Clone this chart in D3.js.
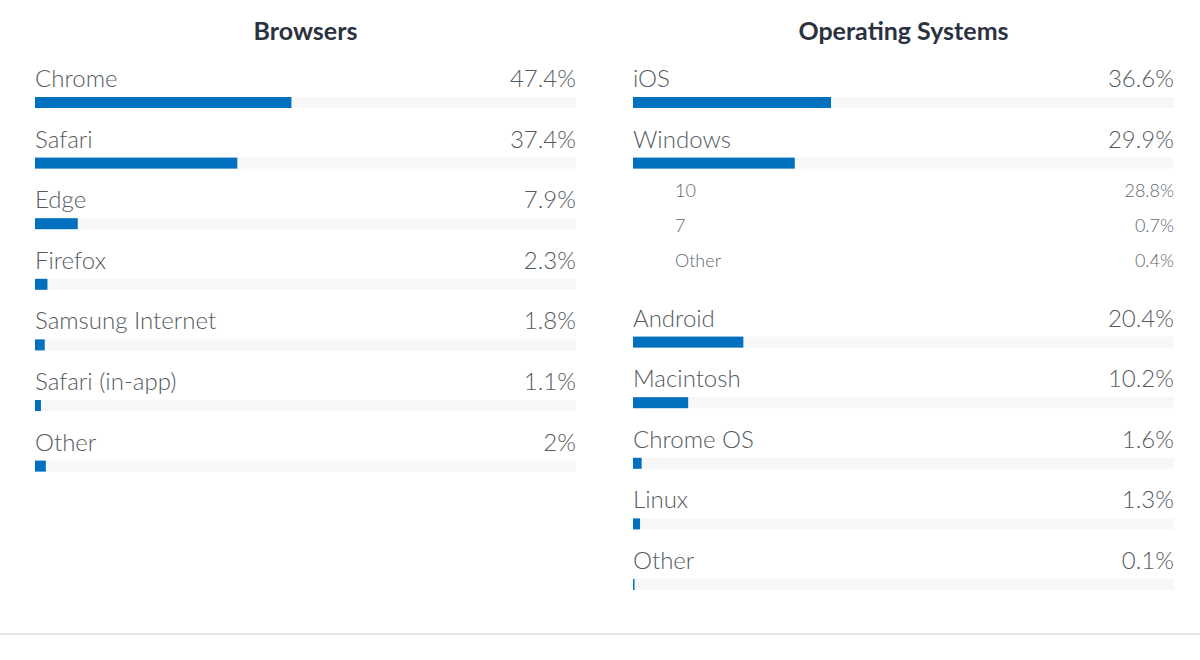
<!DOCTYPE html>
<html>
<head>
<meta charset="utf-8">
<script src="https://cdn.jsdelivr.net/npm/d3@7"></script>
<style>
  body { margin: 0; background: #fff; }
  svg { display: block; }
</style>
</head>
<body>
<div id="chart"></div>
<script>
// data
var browserNames = ["Chrome", "Safari", "Edge", "Firefox", "Samsung Internet", "Safari (in-app)", "Other"];
var browserValues = [47.4, 37.4, 7.9, 2.3, 1.8, 1.1, 2];
var browserLabels = ["47.4%", "37.4%", "7.9%", "2.3%", "1.8%", "1.1%", "2%"];

var osNames = ["iOS", "Windows", "Android", "Macintosh", "Chrome OS", "Linux", "Other"];
var osValues = [36.6, 29.9, 20.4, 10.2, 1.6, 1.3, 0.1];
var osLabels = ["36.6%", "29.9%", "20.4%", "10.2%", "1.6%", "1.3%", "0.1%"];

var windowsSubNames = ["10", "7", "Other"];
var windowsSubLabels = ["28.8%", "0.7%", "0.4%"];

var w = 1200, h = 660;
var panelW = 541;

var svg = d3.select("#chart").append("svg")
  .attr("width", w)
  .attr("height", h);

var x = d3.scaleLinear().domain([0, 100]).range([0, panelW]);

function drawPanel(left, title, names, values, labels, subs) {
  var g = svg.append("g").attr("transform", "translate(" + left + ",0)");

  g.append("text")
    .attr("x", panelW / 2)
    .attr("y", 40)
    .attr("text-anchor", "middle")
    .style("font-family", "Lato, 'Open Sans', sans-serif")
    .style("font-weight", 700)
    .style("font-size", "25px")
    .style("fill", "#2b323f")
    .text(title);

  // build rows with layout
  var rows = [];
  var y = 87;
  names.forEach(function(n, i) {
    rows.push({ name: n, value: values[i], label: labels[i], y: y });
    if (subs && subs[n]) {
      var sy = y + 49;
      subs[n].names.forEach(function(s, j) {
        rows.push({ name: s, label: subs[n].labels[j], y: sy + j * 35, sub: true });
      });
      y = sy + (subs[n].names.length - 1) * 35 + 60;
    } else {
      y += 60.6;
    }
  });

  var row = g.selectAll(".row")
    .data(rows)
    .enter().append("g")
    .attr("class", "row")
    .attr("transform", function(d) { return "translate(0," + d.y + ")"; });

  row.append("text")
    .attr("x", function(d) { return d.sub ? 42 : 0; })
    .style("font-family", "Lato, 'Open Sans', sans-serif")
    .style("font-weight", 300)
    .style("font-size", function(d) { return d.sub ? "18px" : "24px"; })
    .style("fill", function(d) { return d.sub ? "#62676c" : "#555b61"; })
    .text(function(d) { return d.name; });

  row.append("text")
    .attr("x", panelW)
    .attr("text-anchor", "end")
    .style("font-family", "Lato, 'Open Sans', sans-serif")
    .style("font-weight", 300)
    .style("font-size", function(d) { return d.sub ? "18px" : "24px"; })
    .style("fill", function(d) { return d.sub ? "#62676c" : "#555b61"; })
    .text(function(d) { return d.label; });

  var main = row.filter(function(d) { return !d.sub; });

  main.append("rect")
    .attr("y", 10)
    .attr("width", panelW)
    .attr("height", 11)
    .style("fill", "#f7f7f7");

  main.append("rect")
    .attr("y", 10)
    .attr("width", function(d) { return Math.max(x(d.value), 1.5); })
    .attr("height", 11)
    .style("fill", "#0070bf");
}

drawPanel(35, "Browsers", browserNames, browserValues, browserLabels, null);
drawPanel(633, "Operating Systems", osNames, osValues, osLabels,
  { "Windows": { names: windowsSubNames, labels: windowsSubLabels } });

svg.append("line")
  .attr("x1", 0).attr("x2", w)
  .attr("y1", 634).attr("y2", 634)
  .style("stroke", "#e6e6e6")
  .style("stroke-width", 2);
</script>
</body>
</html>
